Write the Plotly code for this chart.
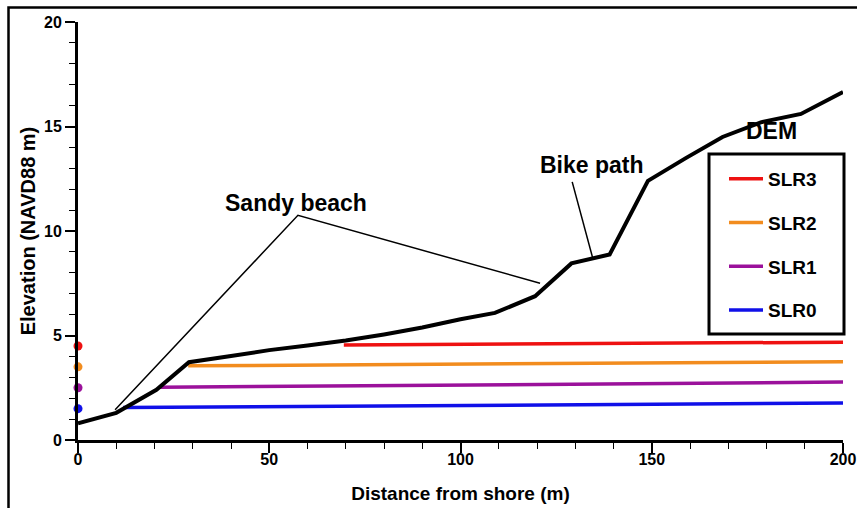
import plotly.graph_objects as go

# ---- data ----
dem_x = [0, 10, 20.5, 29, 40, 50, 60, 70, 80, 90, 100, 109, 119.5, 129, 139, 149, 159, 168.5, 178.5, 189, 200]
dem_y = [0.8, 1.3, 2.4, 3.72, 4.02, 4.3, 4.52, 4.76, 5.05, 5.38, 5.78, 6.08, 6.88, 8.45, 8.88, 12.4, 13.5, 14.5, 15.2, 15.6, 16.65]

slr_names = ["SLR3", "SLR2", "SLR1", "SLR0"]
slr_colors = ["#ee1111", "#f28c1e", "#9b119b", "#1010e8"]
slr_x = [[69.5, 200], [28.8, 200], [21.3, 200], [11.8, 200]]
slr_y = [[4.55, 4.68], [3.55, 3.74], [2.52, 2.77], [1.55, 1.77]]
dot_y = [4.5, 3.5, 2.5, 1.5]

x_ticks = [0, 50, 100, 150, 200]
y_ticks = [0, 5, 10, 15, 20]

FONT = "Liberation Sans, Arial, sans-serif"

fig = go.Figure()

for name, col, xs, ys in zip(slr_names, slr_colors, slr_x, slr_y):
    fig.add_trace(go.Scatter(x=xs, y=ys, mode="lines", name=name,
                             line=dict(color=col, width=3.5),
                             legendgroup=name, showlegend=True))

fig.add_trace(go.Scatter(x=dem_x, y=dem_y, mode="lines", name="DEM",
                         line=dict(color="black", width=4), showlegend=False))

fig.add_trace(go.Scatter(x=[0] * len(dot_y), y=dot_y, mode="markers",
                         marker=dict(color=slr_colors, size=9),
                         showlegend=False, cliponaxis=False))

# leader lines for annotations
fig.add_trace(go.Scatter(x=[9.7, 57.5, 120.8], y=[1.45, 10.75, 7.5], mode="lines",
                         line=dict(color="black", width=1.5), showlegend=False))
fig.add_trace(go.Scatter(x=[129.2, 134.5], y=[12.35, 8.75], mode="lines",
                         line=dict(color="black", width=1.5), showlegend=False))

annos = [
    dict(x=57.0, y=11.34, text="Sandy beach"),
    dict(x=134.4, y=13.16, text="Bike path"),
    dict(x=181.2, y=14.78, text="DEM"),
]
for a in annos:
    fig.add_annotation(x=a["x"], y=a["y"], text=a["text"], showarrow=False,
                       xref="x", yref="y",
                       font=dict(family=FONT, size=23, color="black", weight="bold"))

# legend box
fig.add_shape(type="rect", xref="paper", yref="paper",
              x0=(709 - 78) / 765, x1=(844 - 78) / 765,
              y0=(440 - 334) / 418, y1=(440 - 154) / 418,
              line=dict(color="black", width=3), fillcolor="white", layer="below")

# outer frame
fig.add_shape(type="rect", xref="paper", yref="paper",
              x0=(8.5 - 78) / 765, x1=(870 - 78) / 765,
              y0=(440 - 530) / 418, y1=(440 - 7.5) / 418,
              line=dict(color="black", width=2.5), fillcolor="rgba(0,0,0,0)")

fig.update_layout(
    width=857, height=508,
    margin=dict(l=78, r=14, t=22, b=68, autoexpand=False),
    paper_bgcolor="white", plot_bgcolor="white",
    showlegend=True,
    legend=dict(x=(724 - 78) / 765, y=(440 - 160) / 418, xanchor="left", yanchor="top",
                bgcolor="rgba(0,0,0,0)", borderwidth=0,
                font=dict(family=FONT, size=19, color="black", weight="bold"),
                tracegroupgap=16, itemwidth=34),
    xaxis=dict(range=[0, 200], tickvals=x_ticks, showgrid=False, zeroline=False,
               showline=True, linecolor="black", linewidth=3,
               ticks="outside", ticklen=10, tickwidth=1.5, tickcolor="black",
               ticklabelstandoff=-7,
               minor=dict(dtick=10, ticks="outside", ticklen=6, tickwidth=1, tickcolor="black"),
               tickfont=dict(family=FONT, size=16, color="black", weight="bold"),
               title=dict(text="Distance from shore (m)", standoff=20,
                          font=dict(family=FONT, size=19, color="black", weight="bold"))),
    yaxis=dict(range=[0, 20], tickvals=y_ticks, showgrid=False, zeroline=False,
               showline=True, linecolor="black", linewidth=3,
               ticks="outside", ticklen=10, tickwidth=1.5, tickcolor="black",
               minor=dict(dtick=1, ticks="outside", ticklen=6, tickwidth=1, tickcolor="black"),
               tickfont=dict(family=FONT, size=16, color="black", weight="bold"),
               title=dict(text="Elevation (NAVD88 m)", standoff=4,
                          font=dict(family=FONT, size=20, color="black", weight="bold"))),
)

fig.write_html("out.html")
